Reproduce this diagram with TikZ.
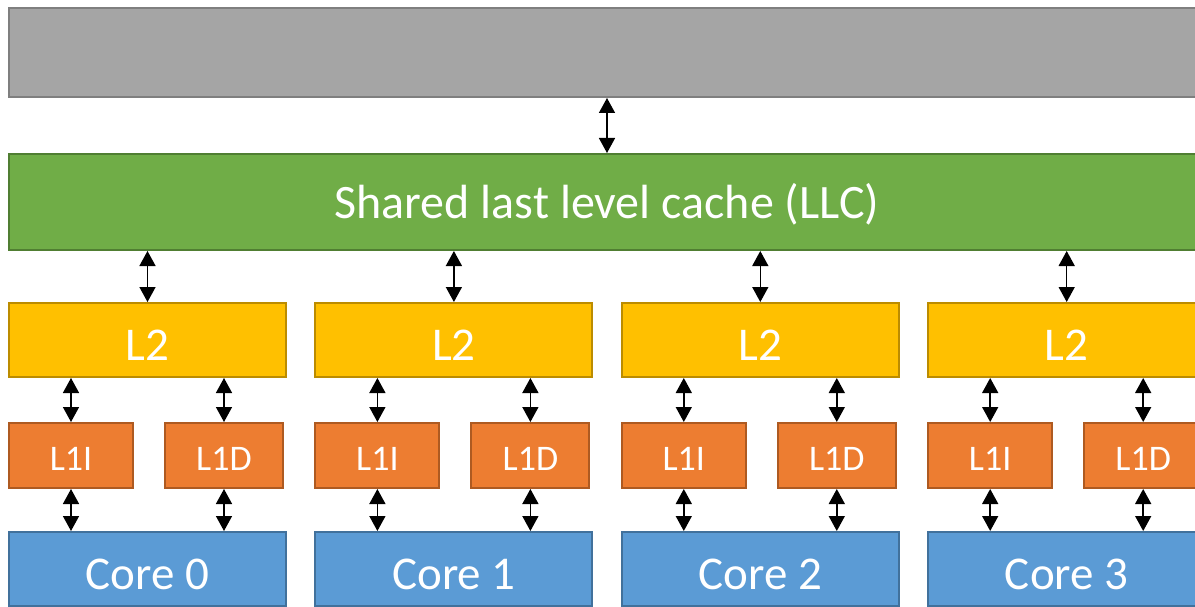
\documentclass[tikz,border=0pt]{standalone}
\usepackage{fontspec}
\setmainfont{Carlito}
\usetikzlibrary{arrows.meta}
\definecolor{memfill}{HTML}{A5A5A5}
\definecolor{memdraw}{HTML}{7F7F7F}
\definecolor{llcfill}{HTML}{70AD47}
\definecolor{llcdraw}{HTML}{507E32}
\definecolor{ltwofill}{HTML}{FFC000}
\definecolor{ltwodraw}{HTML}{BC8C00}
\definecolor{lonefill}{HTML}{ED7D31}
\definecolor{lonedraw}{HTML}{AE5A21}
\definecolor{corefill}{HTML}{5B9BD5}
\definecolor{coredraw}{HTML}{41719C}
\begin{document}
\begin{tikzpicture}[x=1pt,y=-1pt,
  box/.style={draw, line width=2pt, anchor=north west, inner sep=0pt, text=white},
  bigtext/.style={font=\fontsize{47}{50}\selectfont, text height=40.7pt, text depth=0pt},
  llctext/.style={font=\fontsize{48}{50}\selectfont, text height=32.3pt, text depth=0pt},
  smalltext/.style={font=\fontsize{36}{40}\selectfont, text height=29pt, text depth=0pt},
  membox/.style={box, fill=memfill, draw=memdraw},
  llcbox/.style={box, fill=llcfill, draw=llcdraw, llctext},
  ltwobox/.style={box, fill=ltwofill, draw=ltwodraw, bigtext, minimum width=277pt, minimum height=74pt},
  lonebox/.style={box, fill=lonefill, draw=lonedraw, smalltext, minimum height=65pt},
  corebox/.style={box, fill=corefill, draw=coredraw, bigtext, minimum width=277pt, minimum height=74pt},
  arr/.style={{Triangle[width=16pt,length=15pt]}-{Triangle[width=16pt,length=15pt]}, line width=1.5pt, black}
]
\clip (0,0) rectangle (1195,607);
\fill[white] (0,0) rectangle (1195,607);
\node[membox, minimum width=1196pt, minimum height=89pt] (mem) at (8,7) {};
\node[llcbox, minimum width=1196pt, minimum height=96pt] (llc) at (8,153) {Shared last level cache (LLC)};
\draw[arr] (llc.north) -- (llc.north |- mem.south);
\foreach \i in {0,1,2,3} {
  \pgfmathsetmacro{\cx}{8+306.4*\i}
  \pgfmathsetmacro{\dx}{\cx+156}
  \node[ltwobox] (ltwo\i) at (\cx,302) {L2};
  \node[lonebox, minimum width=124pt] (lonei\i) at (\cx,422) {L1I};
  \node[lonebox, minimum width=118pt] (loned\i) at (\dx,422) {L1D};
  \node[corebox] (core\i) at (\cx,531) {Core \i};
  \draw[arr] (ltwo\i.north) -- (ltwo\i.north |- llc.south);
  \draw[arr] (lonei\i.north) -- (lonei\i.north |- ltwo\i.south);
  \draw[arr] (loned\i.north) -- (loned\i.north |- ltwo\i.south);
  \draw[arr] (lonei\i.south) -- (lonei\i.south |- core\i.north);
  \draw[arr] (loned\i.south) -- (loned\i.south |- core\i.north);
}
\end{tikzpicture}
\end{document}
